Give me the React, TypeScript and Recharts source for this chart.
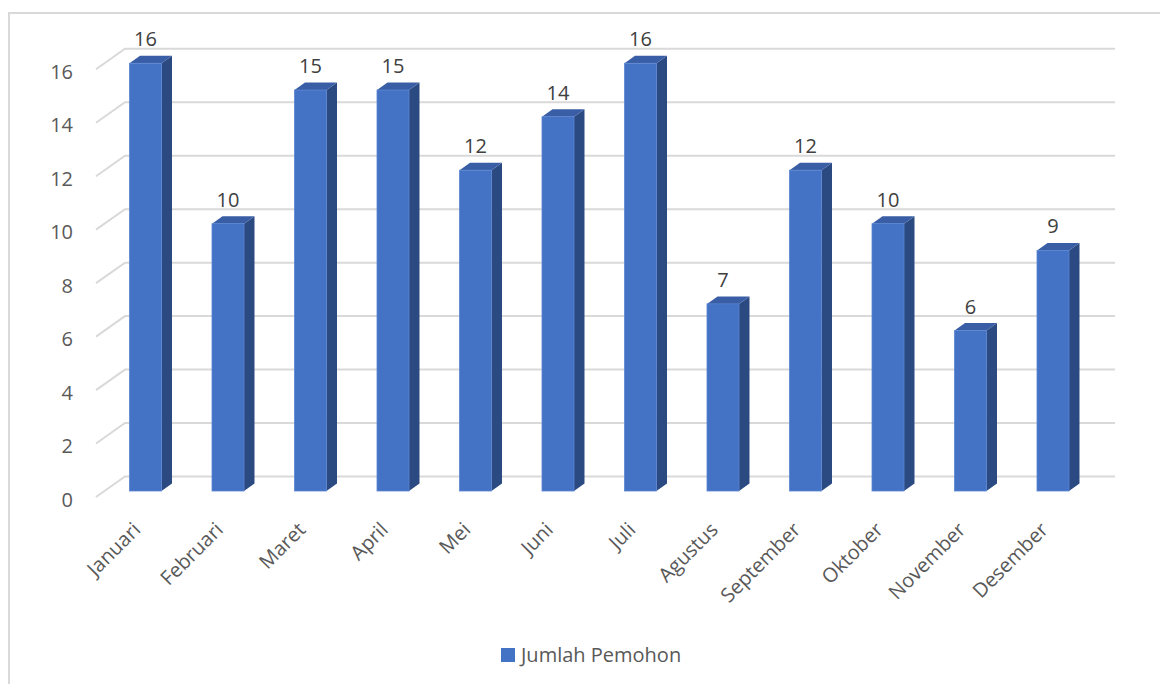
import React from 'react';
import {
  BarChart,
  Bar,
  XAxis,
  YAxis,
  CartesianGrid,
  LabelList,
  Legend,
} from 'recharts';

const bulan = [
  'Januari',
  'Februari',
  'Maret',
  'April',
  'Mei',
  'Juni',
  'Juli',
  'Agustus',
  'September',
  'Oktober',
  'November',
  'Desember',
];
const jumlahPemohon = [16, 10, 15, 15, 12, 14, 16, 7, 12, 10, 6, 9];
const yTicks = [0, 2, 4, 6, 8, 10, 12, 14, 16];
const seriesName = 'Jumlah Pemohon';

const data = bulan.map((b, i) => ({ bulan: b, jumlah: jumlahPemohon[i] }));

const font = '"Open Sans", "DejaVu Sans", sans-serif';
const textColor = '#595959';
const gridColor = '#d9d9d9';
const front = '#4472C4';
const topFace = '#3A5EA6';
const sideFace = '#2C4A82';

// 3d offsets: bar depth, back wall, front axis plane
const barDx = 10.5;
const barDy = 7.5;
const wallDx = 20.5;
const wallDy = 14.5;
const axisDx = 8.5;
const axisDy = 6;

function GridLine(props: any) {
  const { x1, x2, y1, index } = props;
  const pts = `${x1 - axisDx},${y1 + axisDy} ${x1 + wallDx},${y1 - wallDy} ${x2 + wallDx},${y1 - wallDy}`;
  return (
    <polyline
      key={`g-${index}`}
      points={pts}
      fill="none"
      stroke={gridColor}
      strokeWidth={2}
    />
  );
}

function Bar3D(props: any) {
  const x = Number(props.x);
  const y = Number(props.y);
  const w = Number(props.width);
  const h = Number(props.height);
  if (!h) return null;
  return (
    <g>
      <polygon
        points={`${x + w},${y} ${x + w + barDx},${y - barDy} ${x + w + barDx},${y + h - barDy} ${x + w},${y + h}`}
        fill={sideFace}
      />
      <polygon
        points={`${x},${y} ${x + barDx},${y - barDy} ${x + w + barDx},${y - barDy} ${x + w},${y}`}
        fill={topFace}
      />
      <rect x={x} y={y} width={w} height={h} fill={front} stroke="#5a86d2" strokeWidth={0.8} />
    </g>
  );
}

function XTick(props: any) {
  const { x, y, payload } = props;
  const tx = x - 4;
  const ty = y + 40;
  return (
    <text
      x={tx}
      y={ty}
      textAnchor="end"
      transform={`rotate(-45 ${tx} ${ty})`}
      fontFamily={font}
      fontSize={20}
      fill={textColor}
    >
      {payload.value}
    </text>
  );
}

function YTick(props: any) {
  const { x, y, payload } = props;
  return (
    <text x={x} y={y + 15.7} textAnchor="end" fontFamily={font} fontSize={20} fill={textColor}>
      {payload.value}
    </text>
  );
}

function ValueLabel(props: any) {
  const x = Number(props.x);
  const y = Number(props.y);
  const w = Number(props.width);
  return (
    <text
      x={x + w / 2}
      y={y - 17}
      textAnchor="middle"
      fontFamily={font}
      fontSize={20}
      fill="#404040"
    >
      {props.value}
    </text>
  );
}

function LegendBox() {
  return (
    <div
      style={{
        display: 'flex',
        alignItems: 'center',
        fontFamily: font,
        fontSize: 20,
        color: textColor,
        whiteSpace: 'nowrap',
      }}
    >
      <span
        style={{
          display: 'inline-block',
          width: 14,
          height: 14,
          background: front,
          marginRight: 6,
        }}
      />
      {seriesName}
    </div>
  );
}

export default function App() {
  return (
    <div style={{ position: 'absolute', left: 0, top: 0, width: 1160, height: 684, background: '#fff', overflow: 'hidden' }}>
      <div
        style={{
          position: 'absolute',
          left: 8,
          top: 12,
          width: 1200,
          height: 720,
          border: `2px solid ${gridColor}`,
        }}
      />
      <div style={{ position: 'absolute', left: 0, top: 0 }}>
        <BarChart
          width={1160}
          height={684}
          data={data}
          margin={{ top: 63.3, right: 65.5, bottom: 133, left: 44.5 }}
        >
          <CartesianGrid vertical={false} horizontal={GridLine} />
          <XAxis
            dataKey="bulan"
            height={60}
            interval={0}
            axisLine={false}
            tickLine={false}
            tickSize={0}
            tickMargin={0}
            tick={XTick}
          />
          <YAxis
            domain={[0, 16]}
            ticks={yTicks}
            width={60}
            axisLine={false}
            tickLine={false}
            tickSize={0}
            tickMargin={31.5}
            tick={YTick}
          />
          <Legend
            layout="vertical"
            align="center"
            verticalAlign="middle"
            wrapperStyle={{ top: 641, left: 501, width: 'auto' }}
            content={LegendBox}
          />
          <Bar dataKey="jumlah" name={seriesName} barSize={32} shape={Bar3D} isAnimationActive={false}>
            <LabelList dataKey="jumlah" content={ValueLabel} />
          </Bar>
        </BarChart>
      </div>
    </div>
  );
}
